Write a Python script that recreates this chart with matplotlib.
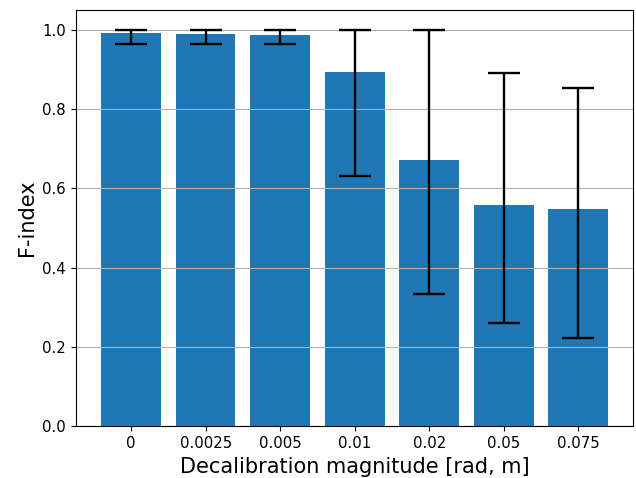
import matplotlib
matplotlib.use("Agg")
import matplotlib.pyplot as plt
import numpy as np

labels = ["0", "0.0025", "0.005", "0.01", "0.02", "0.05", "0.075"]
means = [0.992, 0.991, 0.987, 0.894, 0.671, 0.557, 0.547]
lows = [0.965, 0.965, 0.965, 0.631, 0.334, 0.260, 0.222]
highs = [1.0, 1.0, 1.0, 1.0, 1.0, 0.892, 0.853]

x = np.arange(len(labels))
m = np.array(means)
yerr = [m - np.array(lows), np.array(highs) - m]

fig, ax = plt.subplots(figsize=(6.36, 4.78), dpi=100)
fig.subplots_adjust(left=0.1195, right=0.996, bottom=0.1088, top=0.9787)
ax.bar(x, means, yerr=yerr, capsize=11.5, color="#1f77b4",
       error_kw={"elinewidth": 1.7, "capthick": 1.7, "ecolor": "black"})
ax.set_xticks(x)
ax.set_xticklabels(labels)
ax.tick_params(labelsize=10.7, length=3.7)
ax.yaxis.grid(True, color="#b0b0b0")
ax.set_xlabel("Decalibration magnitude [rad, m]", fontsize=15)
ax.set_ylabel("F-index", fontsize=15)
fig.savefig("out.png", dpi=100)
